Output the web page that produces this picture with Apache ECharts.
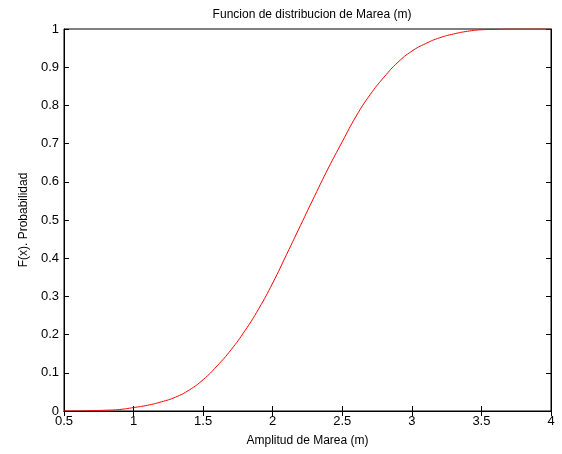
<!doctype html>
<html>
    <head>
        <meta charset="utf-8">
        <title>Funcion de distribucion de Marea</title>
        <style>
            html, body { margin: 0; padding: 0; background: #fff; }
            #main { width: 562px; height: 454px; }
        </style>
    </head>
    <body>
        <div id="main"></div>
        <script src="https://cdn.jsdelivr.net/npm/echarts@6/dist/echarts.min.js"></script>
        <script>
            // valores
            var amplitud = [0.5, 0.6, 0.7, 0.8, 0.9, 1.0, 1.1, 1.2, 1.3, 1.4, 1.5, 1.6, 1.7, 1.8, 1.9,
                2.0, 2.1, 2.2, 2.3, 2.4, 2.5, 2.6, 2.7, 2.8, 2.9, 3.0, 3.1, 3.2, 3.3, 3.4, 3.5,
                3.6, 3.7, 3.8, 3.9, 4.0];
            var probabilidad = [0.0, 0.0, 0.001, 0.002, 0.004, 0.009, 0.015, 0.024, 0.036, 0.055, 0.082,
                0.118, 0.16, 0.21, 0.268, 0.335, 0.41, 0.486, 0.562, 0.636, 0.705, 0.772, 0.828,
                0.874, 0.913, 0.942, 0.962, 0.977, 0.987, 0.994, 0.998, 0.999, 1.0, 1.0, 1.0, 1.0];

            var font = 'Liberation Sans';
            var data = [];
            for (var i = 0; i < amplitud.length; i++) {
                data.push([amplitud[i], probabilidad[i]]);
            }

            var chart = echarts.init(document.getElementById('main'));

            var axisLine = { show: true, lineStyle: { color: '#000', width: 1 } };
            var tick = { show: true, inside: true, length: 5, lineStyle: { color: '#000' } };

            chart.setOption({
                animation: false,
                backgroundColor: '#fff',
                title: {
                    text: 'Funcion de distribucion de Marea (m)',
                    left: 307,
                    textAlign: 'center',
                    top: 4,
                    textStyle: { fontFamily: font, fontSize: 12, fontWeight: 'normal', color: '#000' }
                },
                grid: { left: 64, right: 11, top: 29, bottom: 43, show: true, borderColor: '#000', borderWidth: 1 },
                xAxis: [{
                    type: 'value',
                    min: 0.5,
                    max: 4,
                    interval: 0.5,
                    name: 'Amplitud de Marea (m)',
                    nameLocation: 'middle',
                    nameGap: 24,
                    nameTextStyle: { fontFamily: font, fontSize: 12, color: '#000' },
                    axisLine: axisLine,
                    axisTick: tick,
                    splitLine: { show: false },
                    axisLabel: { fontFamily: font, fontSize: 13, color: '#000', margin: 4 }
                }, {
                    type: 'value',
                    position: 'top',
                    min: 0.5,
                    max: 4,
                    interval: 0.5,
                    axisLine: axisLine,
                    axisTick: tick,
                    splitLine: { show: false },
                    axisLabel: { show: false }
                }],
                yAxis: [{
                    type: 'value',
                    min: 0,
                    max: 1,
                    interval: 0.1,
                    name: 'F(x). Probabilidad',
                    nameLocation: 'middle',
                    nameGap: 34,
                    nameTextStyle: { fontFamily: font, fontSize: 12, color: '#000' },
                    axisLine: axisLine,
                    axisTick: tick,
                    splitLine: { show: false },
                    axisLabel: { fontFamily: font, fontSize: 13, color: '#000', margin: 5 }
                }, {
                    type: 'value',
                    position: 'right',
                    min: 0,
                    max: 1,
                    interval: 0.1,
                    axisLine: axisLine,
                    axisTick: tick,
                    splitLine: { show: false },
                    axisLabel: { show: false }
                }],
                series: [{
                    type: 'line',
                    data: data,
                    smooth: true,
                    showSymbol: false,
                    lineStyle: { color: '#ff0000', width: 1 },
                    itemStyle: { color: '#ff0000' }
                }]
            });

            window.addEventListener('resize', function () {
                chart.resize();
            });
        </script>
    </body>
</html>
